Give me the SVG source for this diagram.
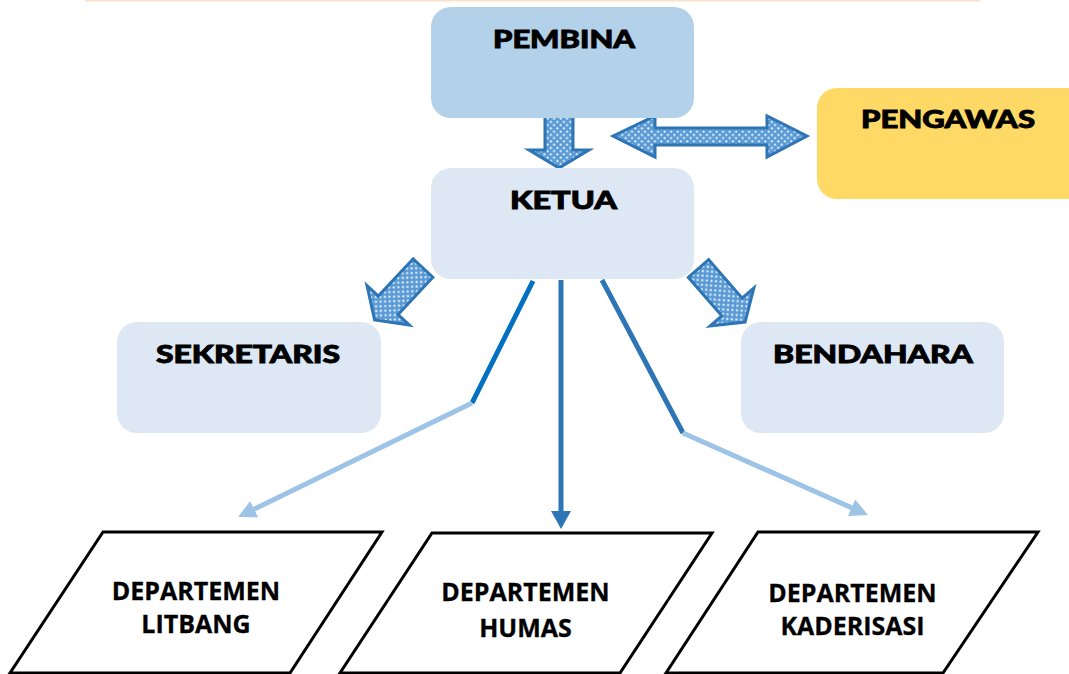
<svg xmlns="http://www.w3.org/2000/svg" width="1069" height="674" viewBox="0 0 1069 674">
<style>
.title{font-family:Lato,"DejaVu Sans",sans-serif;font-weight:900;font-size:25px;fill:#000;stroke:#000;stroke-width:0.9;}
.dept{font-family:"Open Sans","Liberation Sans",sans-serif;font-weight:700;font-size:25px;fill:#000;text-anchor:middle;stroke:#000;stroke-width:0.3;}
.para{fill:#fff;stroke:#000;stroke-width:3;stroke-linejoin:miter;}
.blk{fill:url(#dots);stroke:#2e75b6;stroke-width:3;stroke-linejoin:miter;}
.dark{stroke:#0070c0;stroke-width:5;fill:none;}
.mid{stroke:#2e75b6;stroke-width:5;fill:none;}
.light{stroke:#9dc3e6;stroke-width:5;fill:none;}
</style>
<defs>
<pattern id="dots" width="6.5" height="6.5" patternUnits="userSpaceOnUse">
<rect width="6.5" height="6.5" fill="#5b9bd5"/>
<circle cx="1.6" cy="1.6" r="1.1" fill="#e6f0fa"/>
<circle cx="4.85" cy="4.85" r="1.1" fill="#e6f0fa"/>
</pattern>
<marker id="ahMid" markerUnits="userSpaceOnUse" markerWidth="18" markerHeight="20" refX="12" refY="10" orient="auto"><path d="M0,0 L18,10 L0,20 Z" fill="#2e75b6"/></marker>
<marker id="ahLight" markerUnits="userSpaceOnUse" markerWidth="18" markerHeight="18" refX="12" refY="9" orient="auto"><path d="M0,0 L18,9 L0,18 Z" fill="#9dc3e6"/></marker>
</defs>
<rect width="1069" height="674" fill="#fff"/>
<line x1="85" y1="0.5" x2="980" y2="0.5" stroke="#fbe0cc" stroke-width="2"/>

<g id="connectors">
<polygon class="blk" points="545,102 573,102 573,150 589,150 559,168 529,150 545,150"/>
<polygon class="blk" points="613,136 655,116 655,128 767,128 767,116 807,136 767,157 767,145 655,145 655,157"/>
<path class="blk" transform="translate(423,268) rotate(133)" d="M0,-13.5 L51,-13.5 L51,-29 L71,0 L51,29 L51,13.5 L0,13.5 Z"/>
<path class="blk" transform="translate(698.5,268.5) rotate(49)" d="M0,-13.5 L51,-13.5 L51,-29 L71,0 L51,29 L51,13.5 L0,13.5 Z"/>
<line class="dark" x1="533" y1="281" x2="472" y2="403"/>
<line class="light" x1="472" y1="403" x2="243.4" y2="514.4" marker-end="url(#ahLight)"/>
<line class="mid" x1="561" y1="280" x2="561" y2="523" marker-end="url(#ahMid)"/>
<line class="mid" x1="602" y1="280" x2="683" y2="433"/>
<line class="light" x1="683" y1="433" x2="862.5" y2="512.6" marker-end="url(#ahLight)"/>
</g>

<g id="pembina">
<rect x="431" y="7" width="263" height="111" rx="20" fill="#b4d1ea"/>
<text class="title" x="493" y="48" textLength="142" lengthAdjust="spacingAndGlyphs">PEMBINA</text>
</g>
<g id="ketua">
<rect x="431" y="168" width="263" height="111" rx="20" fill="#dde8f4"/>
<text class="title" x="510" y="209" textLength="107" lengthAdjust="spacingAndGlyphs">KETUA</text>
</g>
<g id="pengawas">
<rect x="817" y="88" width="290" height="111" rx="20" fill="#ffd966"/>
<text class="title" x="861" y="128" textLength="174" lengthAdjust="spacingAndGlyphs">PENGAWAS</text>
</g>
<g id="sekretaris">
<rect x="117" y="322" width="264" height="111" rx="20" fill="#dde8f4"/>
<text class="title" x="156" y="363" textLength="184" lengthAdjust="spacingAndGlyphs">SEKRETARIS</text>
</g>
<g id="bendahara">
<rect x="741" y="322" width="263" height="111" rx="20" fill="#dde8f4"/>
<text class="title" x="773" y="363" textLength="200" lengthAdjust="spacingAndGlyphs">BENDAHARA</text>
</g>

<g id="dept-litbang">
<polygon class="para" points="103,532 382,532 290,673 10,673"/>
<text class="dept" x="196" y="600">DEPARTEMEN</text>
<text class="dept" x="196" y="633">LITBANG</text>
</g>
<g id="dept-humas">
<polygon class="para" points="432,533 712,533 620,673 340,673"/>
<text class="dept" x="525.5" y="601">DEPARTEMEN</text>
<text class="dept" x="525.5" y="637">HUMAS</text>
</g>
<g id="dept-kaderisasi">
<polygon class="para" points="758,532 1038,532 943,673 666,673"/>
<text class="dept" x="852.5" y="602">DEPARTEMEN</text>
<text class="dept" x="852.5" y="635">KADERISASI</text>
</g>
</svg>
